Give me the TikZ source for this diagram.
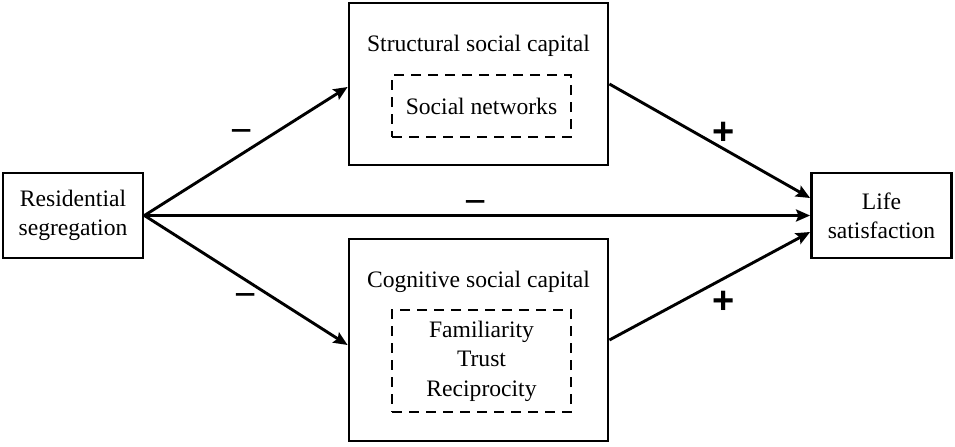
\documentclass[tikz,border=0pt]{standalone}
\usepackage{fontspec}
\setmainfont{Liberation Serif}
\newfontfamily\signfont{Liberation Sans}
\usepackage{tikz}
\usetikzlibrary{arrows.meta}

\tikzset{
  var/.style={draw, rectangle, line width=1.4pt, align=center, inner sep=0pt,
    minimum width=70pt, minimum height=42.5pt},
  group/.style={draw, rectangle, line width=1.4pt, inner sep=0pt, minimum width=129.5pt},
  item/.style={draw, dashed, dash pattern=on 5pt off 3.5pt, line width=1.2pt,
    align=center, inner sep=0pt, minimum width=89.5pt},
  minus/.style={font=\signfont\fontsize{19}{19}\selectfont, inner sep=0pt},
  plus/.style={font=\signfont\bfseries\fontsize{19}{19}\selectfont, inner sep=0pt},
}

\begin{document}
\begin{tikzpicture}[-{Stealth[length=7pt, width=6pt, inset=1.2pt]}, line width=1.45pt,
  x=0.5pt, y=-0.5pt, font=\fontsize{11.8}{14.6}\selectfont]
\useasboundingbox (0,0) rectangle (955,446);

    % Nodes

    \node[var] (seg)  at (73,215.5)  {Residential\\segregation};
    \node[var] (life) at (881.5,215.5) {Life\\satisfaction};

    % Social capital boxes
    \node[group, minimum height=81pt]  (struct) at (478.5,84)  {};
    \node[group, minimum height=101pt] (cog)    at (478.5,340) {};

    \node[anchor=base] (structtitle) at (478.5,51)  {Structural social capital};
    \node[anchor=base] (cogtitle)    at (478.5,287) {Cognitive social capital};

    \node[item, minimum height=31pt] (networks) at (481.5,106) {Social networks};
    \node[item, minimum height=51pt, font=\fontsize{11.8}{14.8}\selectfont]
      (cogitems) at (481.5,361) {Familiarity\\Trust\\Reciprocity};

    % Paths
    \draw (seg.east) -- ([yshift=-1.5pt]struct.west);
    \draw (seg.east) -- ([yshift=-2.5pt]cog.west);
    \draw (seg.east) -- (life.west);
    \draw (struct.east) -- ([yshift=8.75pt]life.west);
    \draw (cog.east) -- ([yshift=-8.25pt]life.west);

    % Signs
    \node[minus] (s1) at (241.5,136) {−};
    \node[minus] (s2) at (245.5,300) {−};
    \node[minus] (s3) at (475.5,207) {−};
    \node[plus]  (s4) at (724,133) {+};
    \node[plus]  (s5) at (724,302) {+};

\end{tikzpicture}
\end{document}
